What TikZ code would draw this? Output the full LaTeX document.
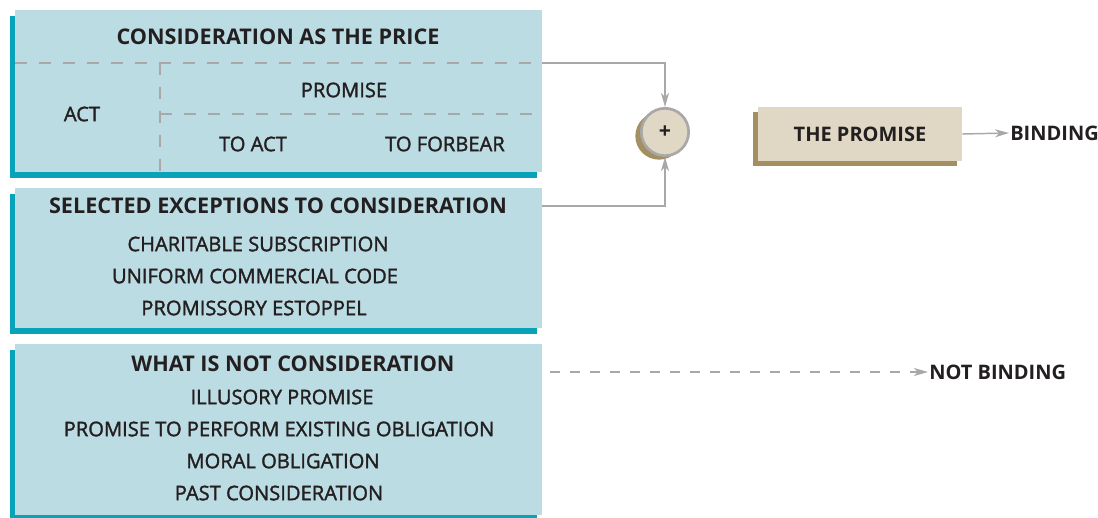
\documentclass[tikz,border=0pt]{standalone}
\usepackage{fontspec}
\setmainfont{Open Sans}
\newfontfamily\itemfont[FakeBold=1.6]{Open Sans}
\usepackage{xcolor}
\usetikzlibrary{arrows.meta,shadows}

\definecolor{boxblue}{HTML}{BCDCE4}
\definecolor{boxteal}{HTML}{08A3B8}
\definecolor{promisefill}{HTML}{E0D8C4}
\definecolor{promiseshade}{HTML}{A38F60}
\definecolor{linegray}{HTML}{A8A8A8}
\definecolor{textdark}{HTML}{231F20}

\tikzset{
  bluebox/.style={fill=boxblue, anchor=north west, inner sep=0pt, minimum width=395.25pt,
    drop shadow={shadow xshift=-3.75pt, shadow yshift=-4.5pt, fill=boxteal, opacity=1}},
  head/.style={font=\fontsize{16.2}{18}\selectfont\bfseries, text=textdark, inner sep=0.75pt},
  item/.style={font=\fontsize{15.1}{17}\selectfont\itemfont, text=textdark, inner sep=0.75pt},
  result/.style={font=\fontsize{15}{17}\selectfont\bfseries, text=textdark, inner sep=0.75pt},
  sepline/.style={draw=linegray, dash pattern=on 9pt off 9pt, line width=1pt},
  conn/.style={draw=linegray, line width=1.1pt, -{Stealth[length=10.5pt,width=6pt,inset=3pt]}},
  promisebox/.style={fill=promisefill, inner sep=0pt, minimum width=153pt, minimum height=40.5pt,
    drop shadow={shadow xshift=-3.75pt, shadow yshift=-3.75pt, fill=promiseshade, opacity=1}},
}

\begin{document}
\begin{tikzpicture}[x=0.75pt,y=0.75pt,yscale=-1,xscale=1]
\useasboundingbox (0,0) rectangle (1098,517);

% three blue boxes
\node [bluebox, minimum height=121.5pt] (price) at (15,10) {};
\node [bluebox, minimum height=105pt] (except) at (15,188) {};
\node [bluebox, minimum height=128.25pt] (notcons) at (15,344) {};

% consideration as the price
\draw [sepline] (15,63) -- (542,63) ;
\draw [sepline] (160,63) -- (160,172) ;
\draw [sepline] (160,114) -- (542,114) ;

\node [head] (pricehead) at (278,37) {CONSIDERATION AS THE PRICE};
\node [item] (act) at (82,114) {ACT};
\node [item] (promise1) at (344,90) {PROMISE};
\node [item] (toact) at (253,144) {TO ACT};
\node [item] (forbear) at (445,144) {TO FORBEAR};

% exceptions
\node [head] (excepthead) at (278,206) {SELECTED EXCEPTIONS TO CONSIDERATION};
\node [item] (charity) at (258,244) {CHARITABLE SUBSCRIPTION};
\node [item] (ucc) at (255,276) {UNIFORM COMMERCIAL CODE};
\node [item] (estoppel) at (254,308) {PROMISSORY ESTOPPEL};

% not consideration
\node [head] (nothead) at (293,364) {WHAT IS NOT CONSIDERATION};
\node [item] (illusory) at (282,397) {ILLUSORY PROMISE};
\node [item] (existing) at (279,429) {PROMISE TO PERFORM EXISTING OBLIGATION};
\node [item] (moral) at (283,461) {MORAL OBLIGATION};
\node [item] (past) at (279,493) {PAST CONSIDERATION};

% plus circle and the promise
\node [circle, draw=linegray, line width=2pt, fill=promisefill, minimum size=35.5pt, inner sep=0pt,
  font=\fontsize{16}{18}\selectfont\bfseries, text=textdark,
  drop shadow={shadow xshift=-4.5pt, shadow yshift=-3pt, fill=promiseshade, opacity=1}] (plus) at (665,132) {+};
\node [promisebox, result] (promise) at (860,134) {THE PROMISE};
\node [result, anchor=west] (binding) at (1009,133) {BINDING};
\node [result, anchor=west] (notbinding) at (928,372) {NOT BINDING};

\coordinate (pricejoin) at (542,63);
\coordinate (exceptjoin) at (542,206);
\coordinate (notjoin) at (550,372);

\draw [conn] (pricejoin) -| (plus.north) ;
\draw [conn] (exceptjoin) -| (plus.south) ;
\draw [conn] (promise.east) -- (binding.west) ;
\draw [conn, dash pattern=on 7.5pt off 7.5pt] (notjoin) -- (notbinding.west) ;
\end{tikzpicture}
\end{document}
